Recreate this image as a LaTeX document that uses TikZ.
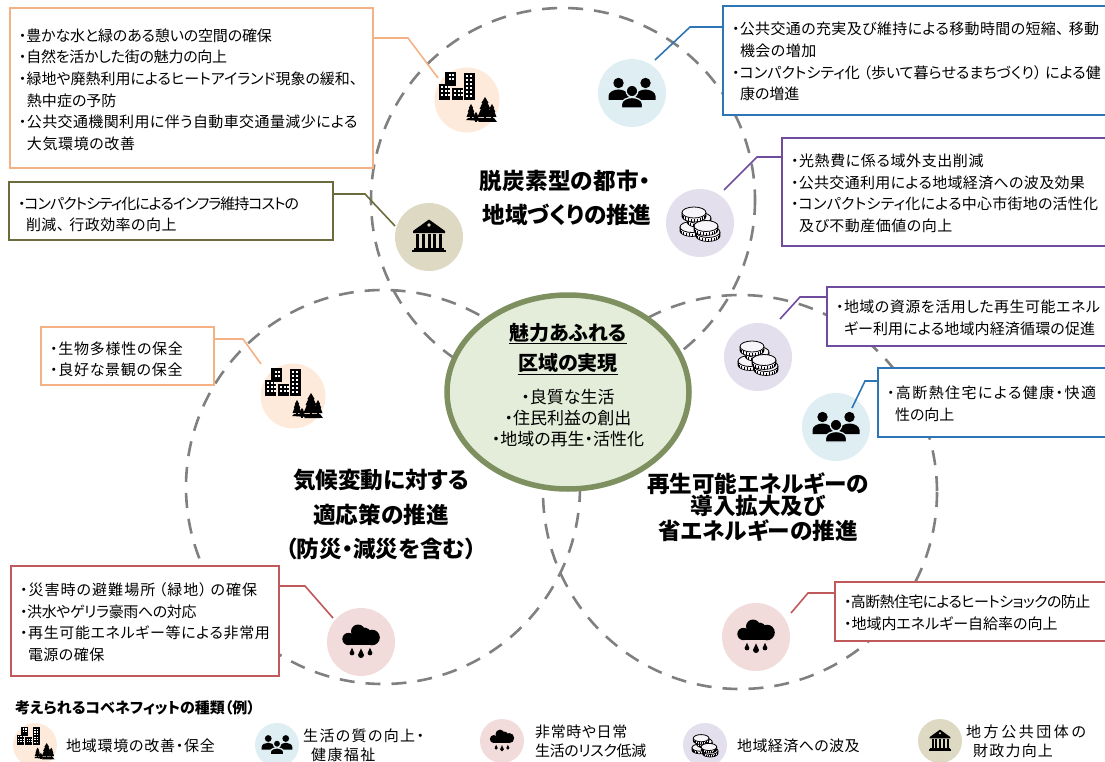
\documentclass[tikz,border=0pt]{standalone}
\usepackage{fontspec}
\usetikzlibrary{shapes.geometric}
\setmainfont[RawFeature=+palt]{Noto Sans CJK JP}
\definecolor{cOrange}{HTML}{F4B183}
\definecolor{cBlue}{HTML}{2E75B6}
\definecolor{cPurple}{HTML}{6F4C9E}
\definecolor{cOlive}{HTML}{6B6B3E}
\definecolor{cRed}{HTML}{C0595A}
\definecolor{bgCity}{HTML}{FDEADA}
\definecolor{bgPeople}{HTML}{DEEEF3}
\definecolor{bgCoin}{HTML}{E4DFEC}
\definecolor{bgBank}{HTML}{DDD9C3}
\definecolor{bgRain}{HTML}{F2DCDB}
\definecolor{coreFill}{HTML}{E3EDD9}
\definecolor{coreLine}{HTML}{7E9060}
\newcommand{\fs}[2]{\fontsize{#1}{#2}\selectfont}
\newcommand{\ind}{\hspace*{8pt}}
\newcommand{\trk}[2]{{\addfontfeature{LetterSpace=#1}#2}}
\newcommand{\up}[1]{\rule{0pt}{#1pt}}
\newcommand{\coinat}[2]{%
  \draw[line width=0.7pt,fill=white!70!bgCoin] ({#1-12},#2) -- ({#1-12},{#2+4}) arc (180:0:12 and 5.5) -- ({#1+12},#2);
  \foreach \a in {165,150,...,15}{\draw[line width=0.6pt] ({#1+12*cos(\a)},{#2+4+5.5*sin(\a)}) -- ({#1+12*cos(\a)},{#2+1+5.5*sin(\a)});}
  \draw[line width=0.8pt,fill=white!70!bgCoin] (#1,#2) ellipse [x radius=12,y radius=5.5];
}
\newcommand{\sprucetree}[4]{% x, base y, half width, height
  \fill ({#1-#3},#2) -- ({#1-0.55*#3},{#2-0.4*#4}) -- ({#1-0.72*#3},{#2-0.4*#4}) -- ({#1-0.35*#3},{#2-0.7*#4}) -- ({#1-0.48*#3},{#2-0.7*#4}) -- (#1,{#2-#4}) -- ({#1+0.48*#3},{#2-0.7*#4}) -- ({#1+0.35*#3},{#2-0.7*#4}) -- ({#1+0.72*#3},{#2-0.4*#4}) -- ({#1+0.55*#3},{#2-0.4*#4}) -- ({#1+#3},#2) -- cycle;
  \fill ({#1-1},#2) rectangle ({#1+1},{#2+3});
}
\tikzset{
  x=1pt,y=-1pt,
  benefit/.style={draw=#1,line width=1.8pt,fill=white,rectangle,anchor=north west,inner xsep=9pt,inner ysep=0pt,outer sep=0pt,align=left,font=\fs{15}{21.6}},
  benefit/.default=black,
  link/.style={draw=#1,line width=1.6pt},
  zone/.style={draw=black!50,line width=2.6pt,dash pattern=on 15pt off 11pt},
  badge/.style={circle,fill=#1,minimum size=68pt,inner sep=0pt,outer sep=0pt},
  minibadge/.style={circle,fill=#1,minimum size=44pt,inner sep=0pt,outer sep=0pt},
  heading/.style={font=\bfseries\fs{22.6}{26},inner sep=0pt},
  label/.style={font=\fs{15}{19},inner sep=0pt,align=left},
  cityicon/.pic={
    \fill (-28,-16) rectangle (-17,0);
    \fill (-15,-12) rectangle (-4,0);
    \fill (-3,-27) rectangle (8,0);
    \fill (-22,-28) rectangle (-11,-14);
    \foreach \cx/\cy in {-26/-14,-22.5/-14,-19/-14,-26/-10,-22.5/-10,-19/-10,-26/-6,-22.5/-6,-19/-6,
                         -13/-10,-9.5/-10,-6/-10,-13/-6,-9.5/-6,-6/-6,
                         -1/-25,2.5/-25,-1/-21,2.5/-21,-1/-17,2.5/-17,-1/-13,2.5/-13,-1/-9,2.5/-9,-1/-5,2.5/-5,
                         -18.5/-25.5,-15/-25.5,-18.5/-21.5,-15/-21.5}
      \fill[white] (\cx,\cy) rectangle ++(2,2);
    \sprucetree{18}{17}{7.5}{20}
    \sprucetree{25}{17}{4.5}{13}
    \sprucetree{4}{17}{4.5}{13}
    \sprucetree{9}{19}{3}{7}
    \fill (-1,20) -- (1,18) -- (27,18) -- (30,22) -- cycle;
    \fill (11,22) -- (14,19) -- (24,19) -- (27,22) -- cycle;
  },
  peopleicon/.pic={
    \fill (-13.5,-10) circle [radius=5.2];
    \fill (13.5,-10) circle [radius=5.2];
    \fill (-23.5,7) -- (-23.5,3) .. controls (-23.5,-1) and (-18,-3.5) .. (-13.5,-3.5) .. controls (-9,-3.5) and (-3.5,-1) .. (-3.5,3) -- (-3.5,7) -- cycle;
    \fill (23.5,7) -- (23.5,3) .. controls (23.5,-1) and (18,-3.5) .. (13.5,-3.5) .. controls (9,-3.5) and (3.5,-1) .. (3.5,3) -- (3.5,7) -- cycle;
    \filldraw[draw=bgPeople,line width=1.3pt] (0,-2) circle [radius=5.8];
    \filldraw[draw=bgPeople,line width=1.3pt] (-10.5,15) -- (-10.5,11) .. controls (-10.5,7) and (-5,4.5) .. (0,4.5) .. controls (5,4.5) and (10.5,7) .. (10.5,11) -- (10.5,15) -- cycle;
  },
  coinicon/.pic={
    \coinat{-8}{4}
    \coinat{-1}{-5}
    \coinat{-6}{-10.5}
    \coinat{8}{9}
    \coinat{6}{3}
  },
  bankicon/.pic={
    \fill (0,-17.5) -- (16,-6) -- (16,-4) -- (-16,-4) -- (-16,-6) -- cycle;
    \fill[bgBank] (0,-12) circle [radius=1.8];
    \foreach \cx in {-13,-7.2,-1.4,4.4,10.2}
      \fill (\cx,-3) rectangle ++(3,13.5);
    \fill (-15,10.5) rectangle (15,13);
    \fill (-17,13) rectangle (17,15);
  },
  rainicon/.pic={
    \fill (-12.5,-3) circle [radius=6.2];
    \fill (-3,-10.5) circle [radius=7];
    \fill (4,-9) circle [radius=5.5];
    \fill (11,-4.5) circle [radius=7.8];
    \fill (-12.5,-5) rectangle (11,3.2);
    \foreach \cx/\cy/\rr in {-9/11/2.4,0/13/3,9/11/2.4}
      \fill (\cx,{\cy-2.2*\rr}) -- ({\cx+\rr},\cy) arc (0:180:\rr) -- cycle;
  }
}
\begin{document}
\begin{tikzpicture}
\useasboundingbox (0,0) rectangle (1105,762);
% zones
\draw[zone] (563,200) circle [radius=192];
\draw[zone] (383,487) circle [radius=197];
\draw[zone] (740,492) circle [radius=197];
% benefit boxes
\node[benefit=cOrange,minimum height=160pt,text width=345pt] (b1) at (10,8) {\up{16}\trk{-1}{・豊かな水と緑のある憩いの空間の確保}\\\trk{-1.7}{・自然を活かした街の魅力の向上}\\・緑地や廃熱利用によるヒートアイランド現象の緩和、\\\ind 熱中症の予防\\\trk{2.6}{・公共交通機関利用に伴う自動車交通量減少による}\\\ind\trk{4}{大気環境の改善}};
\node[benefit=cBlue,minimum height=109pt,text width=374pt] (b2) at (723,6) {\up{15}\trk{2.4}{・公共交通の充実及び維持による移動時間の短縮、\hspace{5pt}移動}\\\ind\trk{3}{機会の増加}\\\trk{0.4}{・コンパクトシティ化\hspace{3.5pt}（歩いて暮らせるまちづくり）\hspace{3.5pt}による健}\\\ind 康の増進};
\node[benefit=cPurple,minimum height=108pt,text width=315pt] (b3) at (782,138) {\up{15.2}\trk{4}{・光熱費に係る域外支出削減}\\\trk{2.2}{・公共交通利用による地域経済への波及効果}\\\trk{1.5}{・コンパクトシティ化による中心市街地の活性化}\\\ind\trk{3.3}{及び不動産価値の向上}};
\node[benefit=cOlive,minimum height=58pt,text width=306pt] (b4) at (9,182) {\up{19}\trk{-6.7}{・コンパクトシティ化によるインフラ維持コストの}\\\ind\trk{3}{削減、\hspace{5pt}行政効率の向上}};
\node[benefit=cOrange,minimum height=58pt,text width=155pt] (b5) at (41,327) {\up{19}\trk{5}{・生物多様性の保全}\\\trk{5}{・良好な景観の保全}};
\node[benefit=cPurple,minimum height=59pt,text width=270pt] (b6) at (827,287) {\up{15.2}\trk{3.3}{・地域の資源を活用した再生可能エネル}\\\ind\trk{1}{ギー利用による地域内経済循環の促進}};
\node[benefit=cBlue,minimum height=69pt,text width=219pt] (b7) at (878,368) {\up{15.2}\trk{9.5}{・高断熱住宅による健康・快適}\\\ind 性の向上};
\node[benefit=cRed,minimum height=110pt,text width=250pt] (b8) at (11,566) {\up{15.2}\trk{7}{・災害時の避難場所\hspace{3.5pt}（緑地）\hspace{3.5pt}の確保}\\\trk{-2.5}{・洪水やゲリラ豪雨への対応}\\\trk{4.3}{・再生可能エネルギー等による非常用}\\\ind\trk{3}{電源の確保}};
\node[benefit=cRed,minimum height=59pt,text width=262pt] (b9) at (835,582) {\up{15.5}\trk{-4.2}{・高断熱住宅によるヒートショックの防止}\\・地域内エネルギー自給率の向上};
% badges
\node[badge=bgCity,minimum size=65pt] (i1) at (467,100) {};
\node[badge=bgPeople] (i2) at (632,93) {};
\node[badge=bgCoin] (i3) at (700,223) {};
\node[badge=bgBank] (i4) at (429,237) {};
\node[badge=bgCity,minimum size=65pt] (i5) at (293,396) {};
\node[badge=bgCoin] (i6) at (758,357) {};
\node[badge=bgPeople] (i7) at (836,427) {};
\node[badge=bgRain] (i8) at (361,642) {};
\node[badge=bgRain] (i9) at (756,637) {};
\pic at (i1) {cityicon};
\pic at (i2) {peopleicon};
\pic at (i3) {coinicon};
\pic at (i4) {bankicon};
\pic at (i5) {cityicon};
\pic at (i6) {coinicon};
\pic at (i7) {peopleicon};
\pic at (i8) {rainicon};
\pic at (i9) {rainicon};
% connectors
\coordinate (k1) at (408,38);
\coordinate (k2) at (690,27);
\coordinate (k3) at (757,157);
\coordinate (k4) at (365,194);
\coordinate (k5) at (243,339);
\coordinate (k6) at (800,297);
\coordinate (k7) at (865,381);
\coordinate (k8) at (305,586);
\coordinate (k9) at (808,593);
\coordinate (e1) at (438,78);
\coordinate (e2) at (655,60);
\coordinate (e3) at (724,190);
\coordinate (e4) at (395,226);
\coordinate (e5) at (261,364);
\coordinate (e6) at (780,319);
\coordinate (e7) at (852,408);
\coordinate (e8) at (333,618);
\coordinate (e9) at (791,613);
\draw[link=cOrange] (e1) -- (k1) -- (k1 -| b1.east);
\draw[link=cBlue] (e2) -- (k2) -- (k2 -| b2.west);
\draw[link=cPurple] (e3) -- (k3) -- (k3 -| b3.west);
\draw[link=cOlive] (e4) -- (k4) -- (k4 -| b4.east);
\draw[link=cOrange] (e5) -- (k5) -- (k5 -| b5.east);
\draw[link=cPurple] (e6) -- (k6) -- (k6 -| b6.west);
\draw[link=cBlue] (e7) -- (k7) -- (k7 -| b7.west);
\draw[link=cRed] (e8) -- (k8) -- (k8 -| b8.east);
\draw[link=cRed] (e9) -- (k9) -- (k9 -| b9.west);
% centre
\node[ellipse,draw=coreLine,line width=5.5pt,fill=coreFill,minimum width=242pt,minimum height=194pt,inner sep=0pt] (core) at (568,392) {};
\node[inner sep=0pt,font=\bfseries\fs{20}{23}] (t1) at (568,333) {魅力あふれる};
\node[inner sep=0pt,font=\bfseries\fs{20}{23}] (t2) at (568,362.5) {区域の実現};
\draw[line width=1.1pt] ([yshift=-1pt]t1.south west) -- ([yshift=-1pt]t1.south east);
\draw[line width=1.1pt] ([yshift=-2pt]t2.south west) -- ([yshift=-2pt]t2.south east);
\node[inner sep=0pt,align=center,font=\fs{17}{21}] (t3) at (568,418) {・良質な生活\\・住民利益の創出\\・地域の再生・活性化};
% headings
\node[heading] (h1) at (565,181) {\trk{1}{脱炭素型の都市・}};
\node[heading] (h2) at (567,215) {地域づくりの推進};
\node[heading] (h3) at (381,480) {気候変動に対する};
\node[heading] (h4) at (381,515) {適応策の推進};
\node[heading] (h5) at (381,549) {\hspace*{5pt}（防災・減災を含む）\hspace*{5pt}};
\node[heading] (h6) at (758,484) {再生可能エネルギーの};
\node[heading] (h7) at (758,506) {導入拡大及び};
\node[heading] (h8) at (758,531) {省エネルギーの推進};
% legend
\node[inner sep=0pt,anchor=west,font=\bfseries\fs{15}{17}] (lt) at (15,708) {考えられるコベネフィットの種類（例）};
\node[minibadge=bgCity] (m1) at (35,745) {};
\node[minibadge=bgPeople] (m2) at (277,745) {};
\node[minibadge=bgRain] (m3) at (502,741) {};
\node[minibadge=bgCoin] (m4) at (705,745) {};
\node[minibadge=bgBank] (m5) at (940,741) {};
\pic[scale=0.65] at (m1) {cityicon};
\pic[scale=0.65] at (m2) {peopleicon};
\pic[scale=0.65] at (m3) {rainicon};
\pic[scale=0.65] at (m4) {coinicon};
\pic[scale=0.65] at (m5) {bankicon};
\node[label,anchor=west] (l1) at (66,746) {\trk{5}{地域環境の改善・保全}};
\node[label,anchor=west] (l2) at (303,745) {\trk{9}{生活の質の向上・}\\\hspace*{8pt}\trk{9}{健康福祉}};
\node[label,anchor=west] (l3) at (535,741) {\trk{4}{非常時や日常}\\\trk{-2.5}{生活のリスク低減}};
\node[label,anchor=west] (l4) at (737,746) {\trk{2.5}{地域経済への波及}};
\node[label,anchor=west] (l5) at (966,741) {\trk{17}{地方公共団体の}\\\hspace*{7pt}\trk{8}{財政力向上}};
\end{tikzpicture}
\end{document}
